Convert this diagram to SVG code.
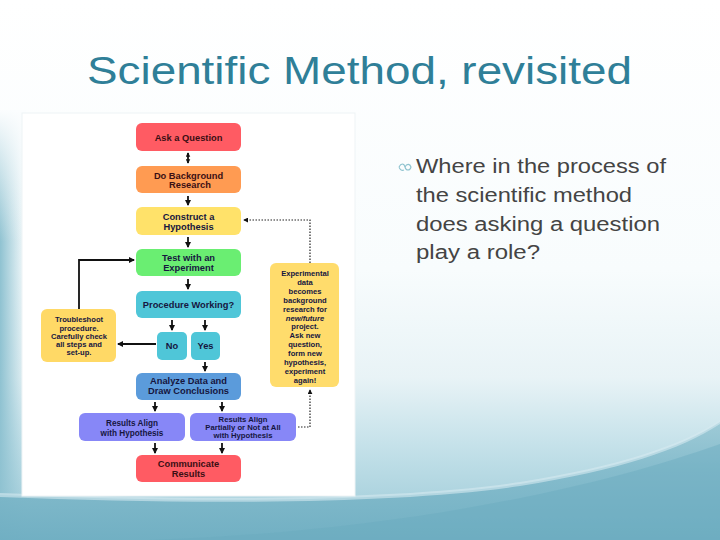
<svg xmlns="http://www.w3.org/2000/svg" width="720" height="540" viewBox="0 0 720 540">
<defs>
<linearGradient id="bg" x1="0" y1="0" x2="0" y2="1">
<stop offset="0" stop-color="#ffffff"/>
<stop offset="0.5" stop-color="#f8fcfd"/>
<stop offset="0.7" stop-color="#e8f3f6"/>
<stop offset="0.82" stop-color="#c6e2ea"/>
<stop offset="1" stop-color="#98c8d6"/>
</linearGradient>
<linearGradient id="leftEdge" x1="0" y1="0" x2="1" y2="0">
<stop offset="0" stop-color="#8fc2d1" stop-opacity="1"/>
<stop offset="1" stop-color="#8fc2d1" stop-opacity="0"/>
</linearGradient>
<linearGradient id="leftFade" x1="0" y1="0" x2="0" y2="1">
<stop offset="0" stop-color="#fbfdfe" stop-opacity="1"/>
<stop offset="0.55" stop-color="#fbfdfe" stop-opacity="0"/>
</linearGradient>
<linearGradient id="band" x1="0" y1="0" x2="0" y2="1">
<stop offset="0" stop-color="#98c7d4"/>
<stop offset="0.4" stop-color="#80b9ca"/>
<stop offset="1" stop-color="#6dadc1"/>
</linearGradient>
<marker id="ah" viewBox="0 0 6 6" refX="5" refY="3" markerWidth="6" markerHeight="6" markerUnits="userSpaceOnUse" orient="auto-start-reverse">
<path d="M0,0 L6,3 L0,6 Z" fill="#111"/>
</marker>
<marker id="ahs" viewBox="0 0 6 6" refX="5" refY="3" markerWidth="4.5" markerHeight="5" markerUnits="userSpaceOnUse" orient="auto-start-reverse">
<path d="M0,0 L6,3 L0,6 Z" fill="#111"/>
</marker>
<marker id="ahd" viewBox="0 0 6 6" refX="5" refY="3" markerWidth="5" markerHeight="5" markerUnits="userSpaceOnUse" orient="auto">
<path d="M0,0 L6,3 L0,6 Z" fill="#111"/>
</marker>
<style>
.t{font-family:"Liberation Sans",Arial,sans-serif;font-weight:bold;fill:#16163f;text-anchor:middle}
.m{font-size:9.3px}
.s{font-size:8.2px}
.p{font-size:7.7px}
.xs{font-size:7.6px}
.rt{fill:#3b0f14}
.c{stroke:#111;stroke-width:1.8;fill:none;marker-end:url(#ah)}
.d{stroke:#222;stroke-width:1.2;fill:none;stroke-dasharray:1.5 1.5}
.title{font-family:"Liberation Sans",Arial,sans-serif;font-size:39px;fill:#2f7f98}
.body{font-family:"Liberation Sans",Arial,sans-serif;font-size:19.5px;fill:#444444}
</style>
</defs>
<rect x="0" y="0" width="720" height="540" fill="url(#bg)"/>
<rect x="0" y="110" width="26" height="430" fill="url(#leftEdge)"/>
<rect x="0" y="110" width="26" height="240" fill="url(#leftFade)"/>
<path d="M0,495 C200,503 400,502 520,484 C620,468 680,448 720,422 L720,540 L0,540 Z" fill="url(#band)" opacity="0.9"/>
<path d="M150,540 C380,532 580,494 720,444 L720,540 Z" fill="#6aabbf" opacity="0.45"/>
<path d="M0,493 C200,501 400,500 520,482 C620,466 680,446 720,420 L720,424 C680,450 620,470 520,486 C400,504 200,505 0,497 Z" fill="#d6eaf0" opacity="0.6"/>

<text class="title" x="87" y="84" textLength="545" lengthAdjust="spacingAndGlyphs">Scientific Method, revisited</text>

<g id="bullet">
<path d="M399,167 c2,-4 5,-4 6,0 c1,4 5,4 6,0 c-1,-3 -4,-4 -6,0 M399,167 c1,3 3,4 5,3" stroke="#8ec3cf" stroke-width="1.1" fill="none"/>
<text class="body" x="416" y="173" textLength="250" lengthAdjust="spacingAndGlyphs">Where in the process of</text>
<text class="body" x="416" y="202" textLength="216" lengthAdjust="spacingAndGlyphs">the scientific method</text>
<text class="body" x="416" y="230.5" textLength="244" lengthAdjust="spacingAndGlyphs">does asking a question</text>
<text class="body" x="416" y="259" textLength="124" lengthAdjust="spacingAndGlyphs">play a role?</text>
</g>

<rect x="22" y="113" width="333" height="383" fill="#ffffff" stroke="#eef3f5" stroke-width="1"/>

<g id="connectors">
<line x1="188" y1="153" x2="188" y2="163" stroke="#111" stroke-width="1.8" marker-start="url(#ahs)" marker-end="url(#ahs)"/>
<line class="c" x1="188" y1="196" x2="188" y2="205"/>
<line class="c" x1="188" y1="237" x2="188" y2="247"/>
<line class="c" x1="188" y1="279" x2="188" y2="289"/>
<line class="c" x1="172" y1="320" x2="172" y2="330"/>
<line class="c" x1="205" y1="320" x2="205" y2="330"/>
<line class="c" x1="156" y1="344" x2="118" y2="344"/>
<polyline class="c" points="79,309 79,260 134,260"/>
<line class="c" x1="205" y1="362" x2="205" y2="371"/>
<line class="c" x1="155" y1="402" x2="155" y2="411"/>
<line class="c" x1="222" y1="402" x2="222" y2="411"/>
<line class="c" x1="155" y1="443" x2="155" y2="453"/>
<line class="c" x1="222" y1="443" x2="222" y2="453"/>
<polyline class="d" points="298,427 310,427 310,390" marker-end="url(#ahd)"/>
<polyline class="d" points="310,263 310,220 244,220" marker-end="url(#ahd)"/>
</g>

<g id="ask"><rect x="136" y="123" width="105" height="28" rx="6" fill="#ff5b63"/>
<text class="t m rt" x="188.5" y="140.5">Ask a Question</text></g>
<g id="background"><rect x="136" y="166" width="105" height="27" rx="6" fill="#ff9b52"/>
<text class="t m rt" x="188.5" y="178.5">Do Background</text><text class="t m rt" x="190" y="188">Research</text></g>
<g id="hypothesis"><rect x="136" y="207" width="105" height="28" rx="6" fill="#ffe26a"/>
<text class="t m" x="188.5" y="219.5">Construct a</text><text class="t m" x="188.5" y="229.5">Hypothesis</text></g>
<g id="experiment"><rect x="136" y="249" width="105" height="27" rx="6" fill="#6aee72"/>
<text class="t m" x="188.5" y="260.5">Test with an</text><text class="t m" x="188.5" y="271">Experiment</text></g>
<g id="procedure"><rect x="136" y="291" width="105" height="27" rx="6" fill="#4fc6d8"/>
<text class="t m" x="188.5" y="308">Procedure Working?</text></g>
<g id="no"><rect x="157" y="332" width="30" height="28" rx="5" fill="#4fc6d8"/>
<text class="t m" x="172" y="348.5">No</text></g>
<g id="yes"><rect x="191" y="332" width="29" height="28" rx="5" fill="#4fc6d8"/>
<text class="t m" x="205.5" y="348.5">Yes</text></g>
<g id="troubleshoot"><rect x="41" y="309" width="75" height="53" rx="6" fill="#ffd966"/>
<text class="t xs" x="79" y="322">Troubleshoot</text>
<text class="t xs" x="79" y="330.5">procedure.</text>
<text class="t xs" x="79" y="339">Carefully check</text>
<text class="t xs" x="79" y="347">all steps and</text>
<text class="t xs" x="79" y="355">set-up.</text></g>
<g id="feedback"><rect x="270" y="263" width="69" height="124" rx="6" fill="#ffdc6c"/>
<text class="t xs" x="305" y="276">Experimental</text>
<text class="t xs" x="305" y="284.9">data</text>
<text class="t xs" x="305" y="293.8">becomes</text>
<text class="t xs" x="305" y="302.7">background</text>
<text class="t xs" x="305" y="311.6">research for</text>
<text class="t xs" x="305" y="320.5" font-style="italic">new/future</text>
<text class="t xs" x="305" y="329.4">project.</text>
<text class="t xs" x="305" y="338.3">Ask new</text>
<text class="t xs" x="305" y="347.2">question,</text>
<text class="t xs" x="305" y="356.1">form new</text>
<text class="t xs" x="305" y="365">hypothesis,</text>
<text class="t xs" x="305" y="373.9">experiment</text>
<text class="t xs" x="305" y="382.8">again!</text></g>
<g id="analyze"><rect x="136" y="373" width="105" height="27" rx="6" fill="#5b9bdb"/>
<text class="t m" x="188.5" y="384">Analyze Data and</text><text class="t m" x="188.5" y="394">Draw Conclusions</text></g>
<g id="align"><rect x="79" y="413" width="106" height="28" rx="6" fill="#8787f7"/>
<text class="t s" x="132" y="426">Results Align</text><text class="t s" x="132" y="435.5">with Hypothesis</text></g>
<g id="partial"><rect x="190" y="413" width="106" height="28" rx="6" fill="#8787f7"/>
<text class="t p" x="243" y="421.5">Results Align</text><text class="t p" x="243" y="429.5">Partially or Not at All</text><text class="t p" x="243" y="437.5">with Hypothesis</text></g>
<g id="communicate"><rect x="136" y="455" width="105" height="27" rx="6" fill="#ff5b63"/>
<text class="t m rt" x="188.5" y="467">Communicate</text><text class="t m rt" x="188.5" y="476.5">Results</text></g>
</svg>
